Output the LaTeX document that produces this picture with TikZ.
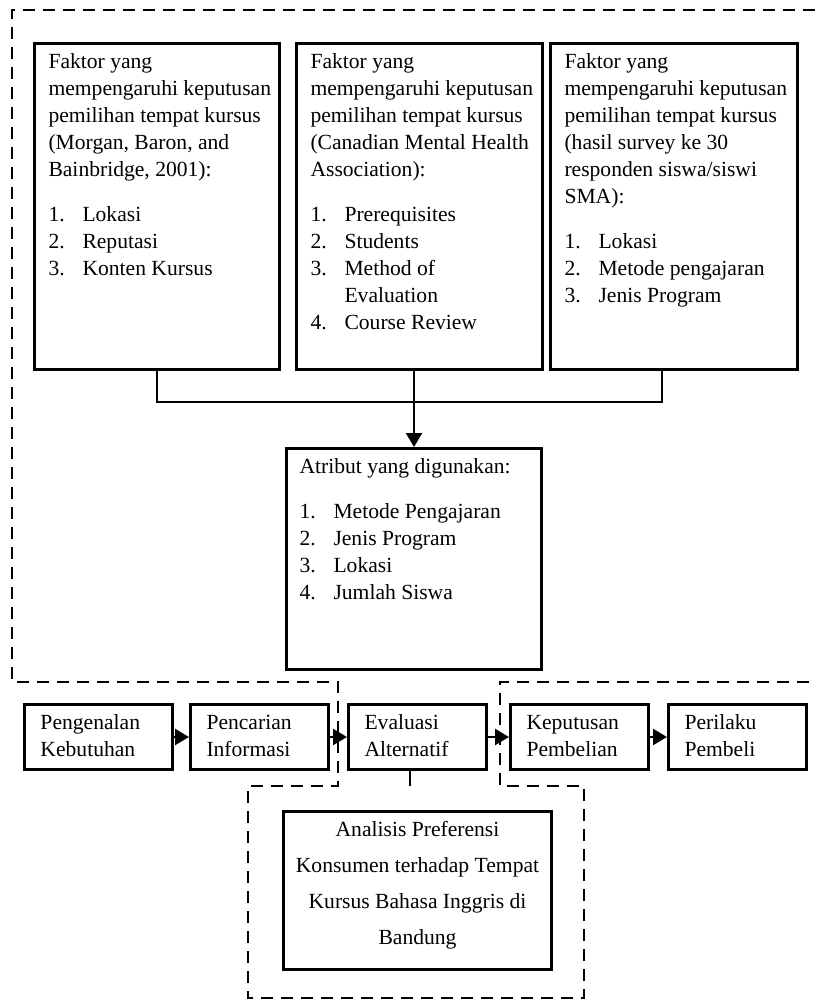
\documentclass[tikz,border=0pt]{standalone}
\usepackage{fontspec}
\setmainfont{Liberation Serif}
\usetikzlibrary{arrows.meta}

\newcommand{\nomor}[1]{\makebox[17pt][l]{#1}}
\newcommand{\isikotak}[4][7pt]{\parbox[c][#3][t]{#2}{\raggedright\leftskip=#1\relax
  \fontsize{10.8pt}{13.5pt}\selectfont\vspace*{3pt}\strut #4}}
\newcommand{\isitengah}[3]{\parbox[c][#2][t]{#1}{\centering
  \fontsize{10.8pt}{18pt}\selectfont\vspace*{0pt}\strut #3}}

\begin{document}
\begin{tikzpicture}[x=0.5pt,y=-0.5pt,
    kotak/.style={draw, line width=1.5pt, inner sep=0pt, anchor=north west},
    garis/.style={line width=1.2pt},
    panah/.style={garis, -{Triangle[length=7pt,width=8pt]}},
    batas/.style={line width=1pt, dash pattern=on 6pt off 4pt}]
\useasboundingbox (0,0) rectangle (815,1000);

% batas putus-putus
\draw[batas] (815,10) -- (12,10) -- (12,682) -- (338,682) -- (338,786)
  -- (248,786) -- (248,998) -- (584,998) -- (584,786) -- (500,786)
  -- (500,682) -- (815,682);

% faktor-faktor
\node[kotak] (faktorA) at (33,42) {\isikotak{122.5pt}{163pt}{Faktor yang\\
  mempengaruhi keputusan\\ pemilihan tempat kursus\\ (Morgan, Baron, and\\
  Bainbridge, 2001):\\[9pt]
  \nomor{1.}Lokasi\\ \nomor{2.}Reputasi\\ \nomor{3.}Konten Kursus}};
\node[kotak] (faktorB) at (295,42) {\isikotak{123pt}{163pt}{Faktor yang\\
  mempengaruhi keputusan\\ pemilihan tempat kursus\\ (Canadian Mental Health\\
  Association):\\[9pt]
  \nomor{1.}Prerequisites\\ \nomor{2.}Students\\ \nomor{3.}Method of\\
  \hspace*{17pt}Evaluation\\ \nomor{4.}Course Review}};
\node[kotak] (faktorC) at (549,42) {\isikotak{123.5pt}{163pt}{Faktor yang\\
  mempengaruhi keputusan\\ pemilihan tempat kursus\\ (hasil survey ke 30\\
  responden siswa/siswi\\ SMA):\\[9pt]
  \nomor{1.}Lokasi\\ \nomor{2.}Metode pengajaran\\ \nomor{3.}Jenis Program}};

\node[kotak] (atribut) at (285,447) {\isikotak[6.5pt]{127.5pt}{110.5pt}{Atribut yang digunakan:\\[9pt]
  \nomor{1.}Metode Pengajaran\\ \nomor{2.}Jenis Program\\ \nomor{3.}Lokasi\\
  \nomor{4.}Jumlah Siswa}};

\coordinate (simpang) at (atribut.north |- 0,402);
\draw[garis] (faktorA.south) |- (simpang) -| ([xshift=-6pt]faktorC.south);
\draw[panah] (atribut.north |- faktorB.south) -- (atribut.north);

% proses keputusan
\node[kotak] (pengenalan) at (23,703) {\isikotak[8pt]{74pt}{32.5pt}{Pengenalan\\ Kebutuhan}};
\node[kotak] (pencarian) at (189,703) {\isikotak[8pt]{69pt}{32.5pt}{Pencarian\\ Informasi}};
\node[kotak] (evaluasi) at (347,703) {\isikotak[8pt]{69pt}{32.5pt}{Evaluasi\\ Alternatif}};
\node[kotak] (keputusan) at (509,703) {\isikotak[8pt]{69pt}{32.5pt}{Keputusan\\ Pembelian}};
\node[kotak] (perilaku) at (667,703) {\isikotak[8pt]{69pt}{32.5pt}{Perilaku\\ Pembeli}};

\draw[panah] (pengenalan) -- (pencarian);
\draw[panah] (pencarian) -- (evaluasi);
\draw[panah] (evaluasi) -- (keputusan);
\draw[panah] (keputusan) -- (perilaku);

\coordinate (ujung) at (410,786);
\draw[garis] (ujung |- evaluasi.south) -- (ujung);

\node[kotak] (analisis) at (282,810) {\isitengah{134pt}{79pt}{Analisis Preferensi\\
  Konsumen terhadap Tempat\\ Kursus Bahasa Inggris di\\ Bandung}};
\end{tikzpicture}
\end{document}
